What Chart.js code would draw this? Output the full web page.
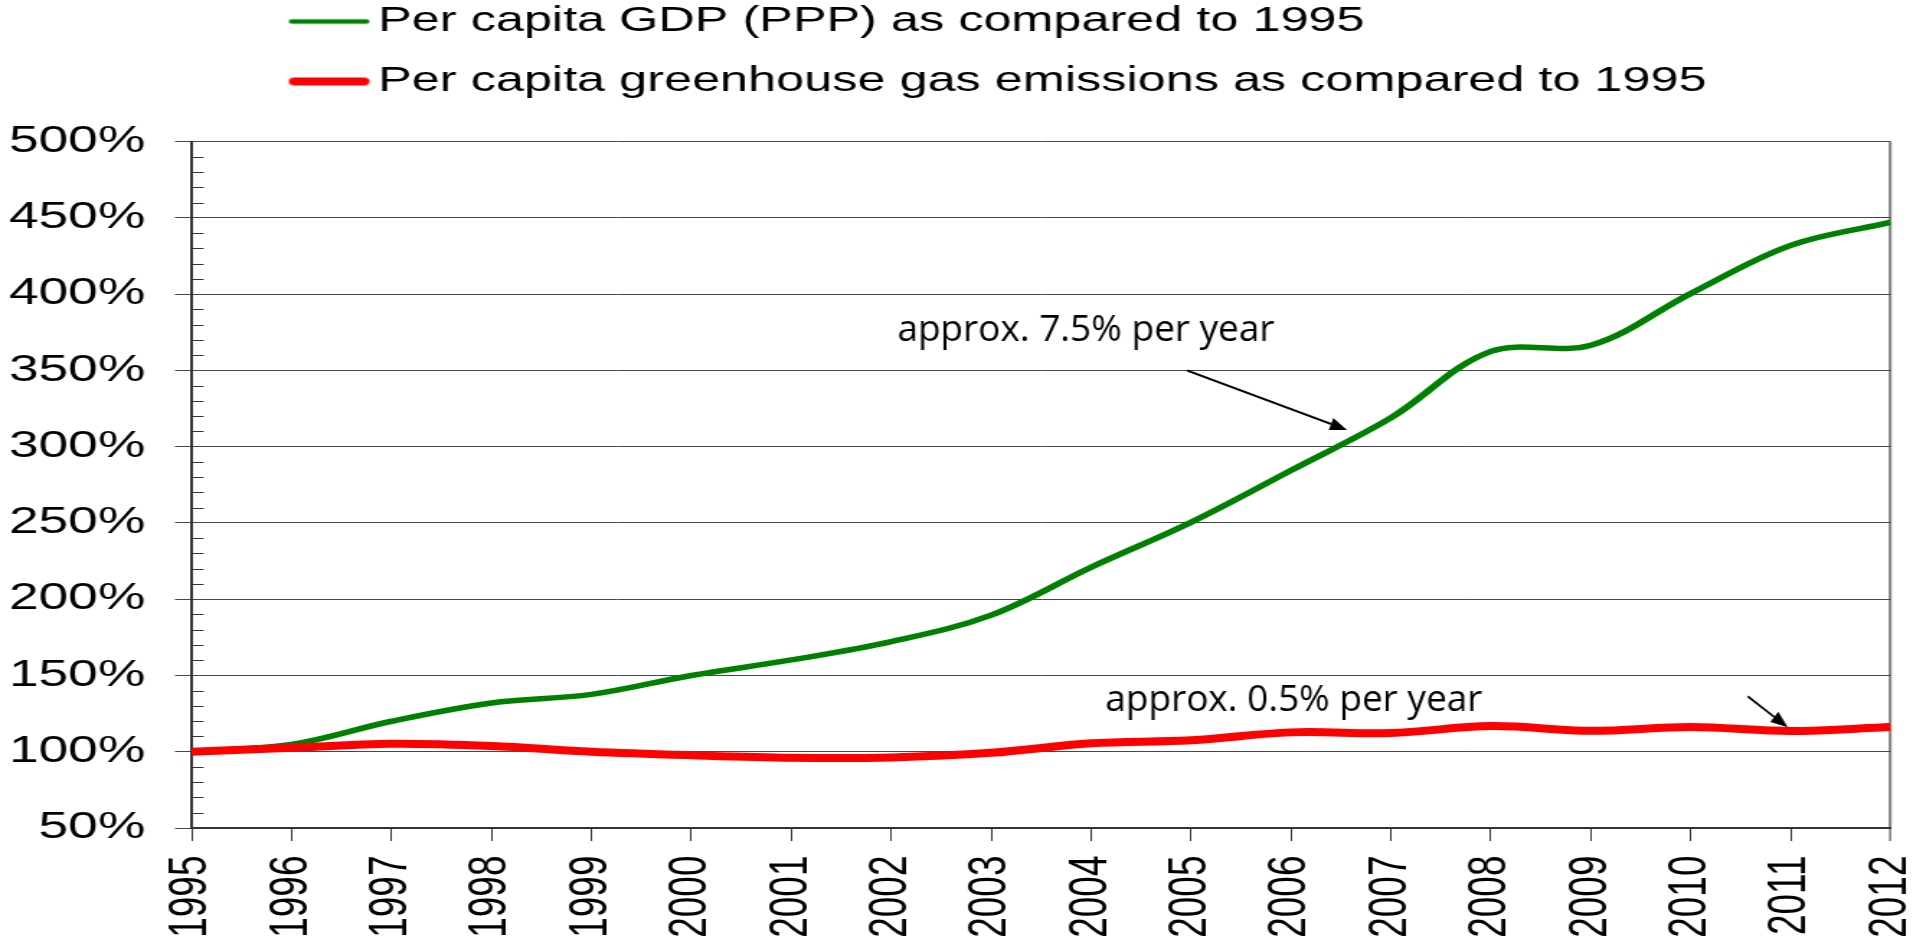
<!DOCTYPE html>
<html>
<head>
<meta charset="utf-8">
<title>Per capita GDP vs greenhouse gas emissions</title>
<script src="https://cdn.jsdelivr.net/npm/chart.js@4.4.1/dist/chart.umd.min.js"></script>
<style>
  html, body { margin: 0; padding: 0; background: #fff; overflow: hidden; }
  #chart { display: block; }
</style>
</head>
<body>
<canvas id="chart" width="1328" height="946" style="width:1913px;height:946px"></canvas>
<script>
// values, % of the 1995 level
const years = [1995, 1996, 1997, 1998, 1999, 2000, 2001, 2002, 2003, 2004, 2005, 2006, 2007, 2008, 2009, 2010, 2011, 2012];
const gdpPerCapita = [100, 104.8, 120, 132, 137.6, 150, 160.2, 172.2, 189.6, 221, 250.5, 284.5, 319, 362.5, 366.5, 400.5, 432, 447.2];
const ghgPerCapita = [100, 102.6, 105.2, 103.7, 100, 97.7, 96.1, 96.3, 99.3, 105.5, 107.5, 112.7, 112.3, 116.8, 113.7, 116.2, 113.6, 116.2];
const seriesNames = ['Per capita GDP (PPP) as compared to 1995', 'Per capita greenhouse gas emissions as compared to 1995'];
const seriesColors = ['#008000', '#ff0000'];
const yMin = 50, yMax = 500, yStep = 50, yMinorStep = 10;

// the original picture is stretched sideways, so the canvas is drawn narrow and widened by css
const STRETCH = 1913 / 1328;

const notes = [
  { text: 'approx. 7.5% per year', x: 2002.06, y: 369, from: [2004.96, 350], to: [2006.56, 311] },
  { text: 'approx. 0.5% per year', x: 2004.14, y: 127, from: [2010.57, 136.3], to: [2010.97, 116] }
];

const toPoints = vals => vals.map((v, i) => ({ x: years[i], y: v }));

// legend symbol: a short round-ended line that sits close to the text
const LEGEND_BOX = 45;
function legendLine(color, width) {
  const c = document.createElement('canvas');
  c.width = 70;
  c.height = 12;
  const g = c.getContext('2d');
  g.strokeStyle = color;
  g.lineWidth = width;
  g.lineCap = 'round';
  g.beginPath();
  g.moveTo(13 + width / 2, 6);
  g.lineTo(69 - width / 2, 6);
  g.stroke();
  return c;
}
const legendSymbols = [legendLine(seriesColors[0], 4.5), legendLine(seriesColors[1], 8)];

const minorTicks = {
  id: 'minorTicks',
  beforeDatasetsDraw(chart) {
    const { ctx, chartArea, scales: { y } } = chart;
    ctx.save();
    ctx.strokeStyle = '#333';
    ctx.lineWidth = 1;
    for (let v = yMin + yMinorStep; v < yMax; v += yMinorStep) {
      if (v % yStep === 0) continue;
      const py = Math.round(y.getPixelForValue(v)) + 0.5;
      ctx.beginPath();
      ctx.moveTo(chartArea.left, py);
      ctx.lineTo(chartArea.left + 8.3, py);
      ctx.stroke();
    }
    ctx.restore();
  }
};

const arrowNotes = {
  id: 'arrowNotes',
  afterDatasetsDraw(chart) {
    const { ctx, scales: { x, y } } = chart;
    ctx.save();
    ctx.scale(1 / STRETCH, 1);
    ctx.fillStyle = '#000';
    ctx.strokeStyle = '#000';
    ctx.font = '37px "Open Sans"';
    ctx.textBaseline = 'alphabetic';
    ctx.textAlign = 'left';
    notes.forEach(n => {
      ctx.fillText(n.text, x.getPixelForValue(n.x) * STRETCH, y.getPixelForValue(n.y));
      const x0 = x.getPixelForValue(n.from[0]) * STRETCH, y0 = y.getPixelForValue(n.from[1]);
      const x1 = x.getPixelForValue(n.to[0]) * STRETCH, y1 = y.getPixelForValue(n.to[1]);
      const a = Math.atan2(y1 - y0, x1 - x0);
      const len = 17, half = 6.5;
      const bx = x1 - Math.cos(a) * len, by = y1 - Math.sin(a) * len;
      ctx.lineWidth = 2;
      ctx.beginPath();
      ctx.moveTo(x0, y0);
      ctx.lineTo(bx, by);
      ctx.stroke();
      ctx.beginPath();
      ctx.moveTo(x1, y1);
      ctx.lineTo(bx - Math.sin(a) * half, by + Math.cos(a) * half);
      ctx.lineTo(bx + Math.sin(a) * half, by - Math.cos(a) * half);
      ctx.closePath();
      ctx.fill();
    });
    ctx.restore();
  }
};

// put the legend where the original has it, top left above the plot
const legendPlacer = {
  id: 'legendPlacer',
  afterLayout(chart) {
    const lg = chart.legend;
    const pad = lg.options.labels.padding;
    const size = lg.options.labels.font.size;
    const dx = 200 - (lg.left + pad);
    const dy = 21.5 - (lg.top + pad + size / 2);
    lg.left += dx; lg.right += dx;
    lg.top += dy; lg.bottom += dy;
  }
};

new Chart(document.getElementById('chart'), {
  type: 'line',
  data: {
    datasets: [
      {
        label: seriesNames[0],
        data: toPoints(gdpPerCapita),
        borderColor: seriesColors[0],
        backgroundColor: seriesColors[0],
        borderWidth: 5.5,
        order: 1
      },
      {
        label: seriesNames[1],
        data: toPoints(ghgPerCapita),
        borderColor: seriesColors[1],
        backgroundColor: seriesColors[1],
        borderWidth: 8,
        order: 0
      }
    ]
  },
  options: {
    responsive: false,
    devicePixelRatio: 1,
    animation: false,
    events: [],
    layout: { padding: { top: 11.7, left: 0, right: 15.5, bottom: 0 } },
    elements: {
      point: { radius: 0, hoverRadius: 0 },
      line: { tension: 0.35, fill: false }
    },
    plugins: {
      tooltip: { enabled: false },
      legend: {
        position: 'top',
        align: 'start',
        labels: {
          color: '#000',
          font: { family: '"Liberation Sans", Arial, sans-serif', size: 35 },
          padding: 25,
          usePointStyle: true,
          pointStyleWidth: LEGEND_BOX,
          sort: (a, b) => a.datasetIndex - b.datasetIndex,
          generateLabels(chart) {
            const items = Chart.defaults.plugins.legend.labels.generateLabels(chart);
            items.forEach(it => {
              it.pointStyle = legendSymbols[it.datasetIndex];
            });
            return items;
          }
        }
      }
    },
    scales: {
      x: {
        type: 'linear',
        min: years[0],
        max: years[years.length - 1],
        afterFit(scale) {
          scale.height = 118;
          scale.paddingLeft = 0;
          scale.paddingRight = 0;
        },
        border: { display: true, color: '#333', width: 2 },
        grid: {
          drawOnChartArea: true,
          color: c => c.index === years.length - 1 ? '#8a8a8a' : 'rgba(0,0,0,0)',
          lineWidth: c => c.index === years.length - 1 ? 2.2 : 1,
          tickColor: '#333',
          tickWidth: 1,
          tickLength: 13
        },
        ticks: {
          stepSize: 1,
          autoSkip: false,
          maxRotation: 90,
          minRotation: 90,
          padding: 14.5,
          color: '#000',
          font: { family: '"Liberation Sans", Arial, sans-serif', size: 37 },
          callback: v => String(v)
        }
      },
      y: {
        min: yMin,
        max: yMax,
        afterFit(scale) { scale.width = 133.08; },
        border: { display: true, color: '#333', width: 2 },
        grid: {
          color: '#464646',
          lineWidth: 1,
          tickColor: '#464646',
          tickLength: 11.6
        },
        ticks: {
          stepSize: yStep,
          padding: 20.7,
          color: '#000',
          font: { family: '"Liberation Sans", Arial, sans-serif', size: 37 },
          callback: v => v + '%'
        }
      }
    }
  },
  plugins: [minorTicks, arrowNotes, legendPlacer]
});
</script>
</body>
</html>
